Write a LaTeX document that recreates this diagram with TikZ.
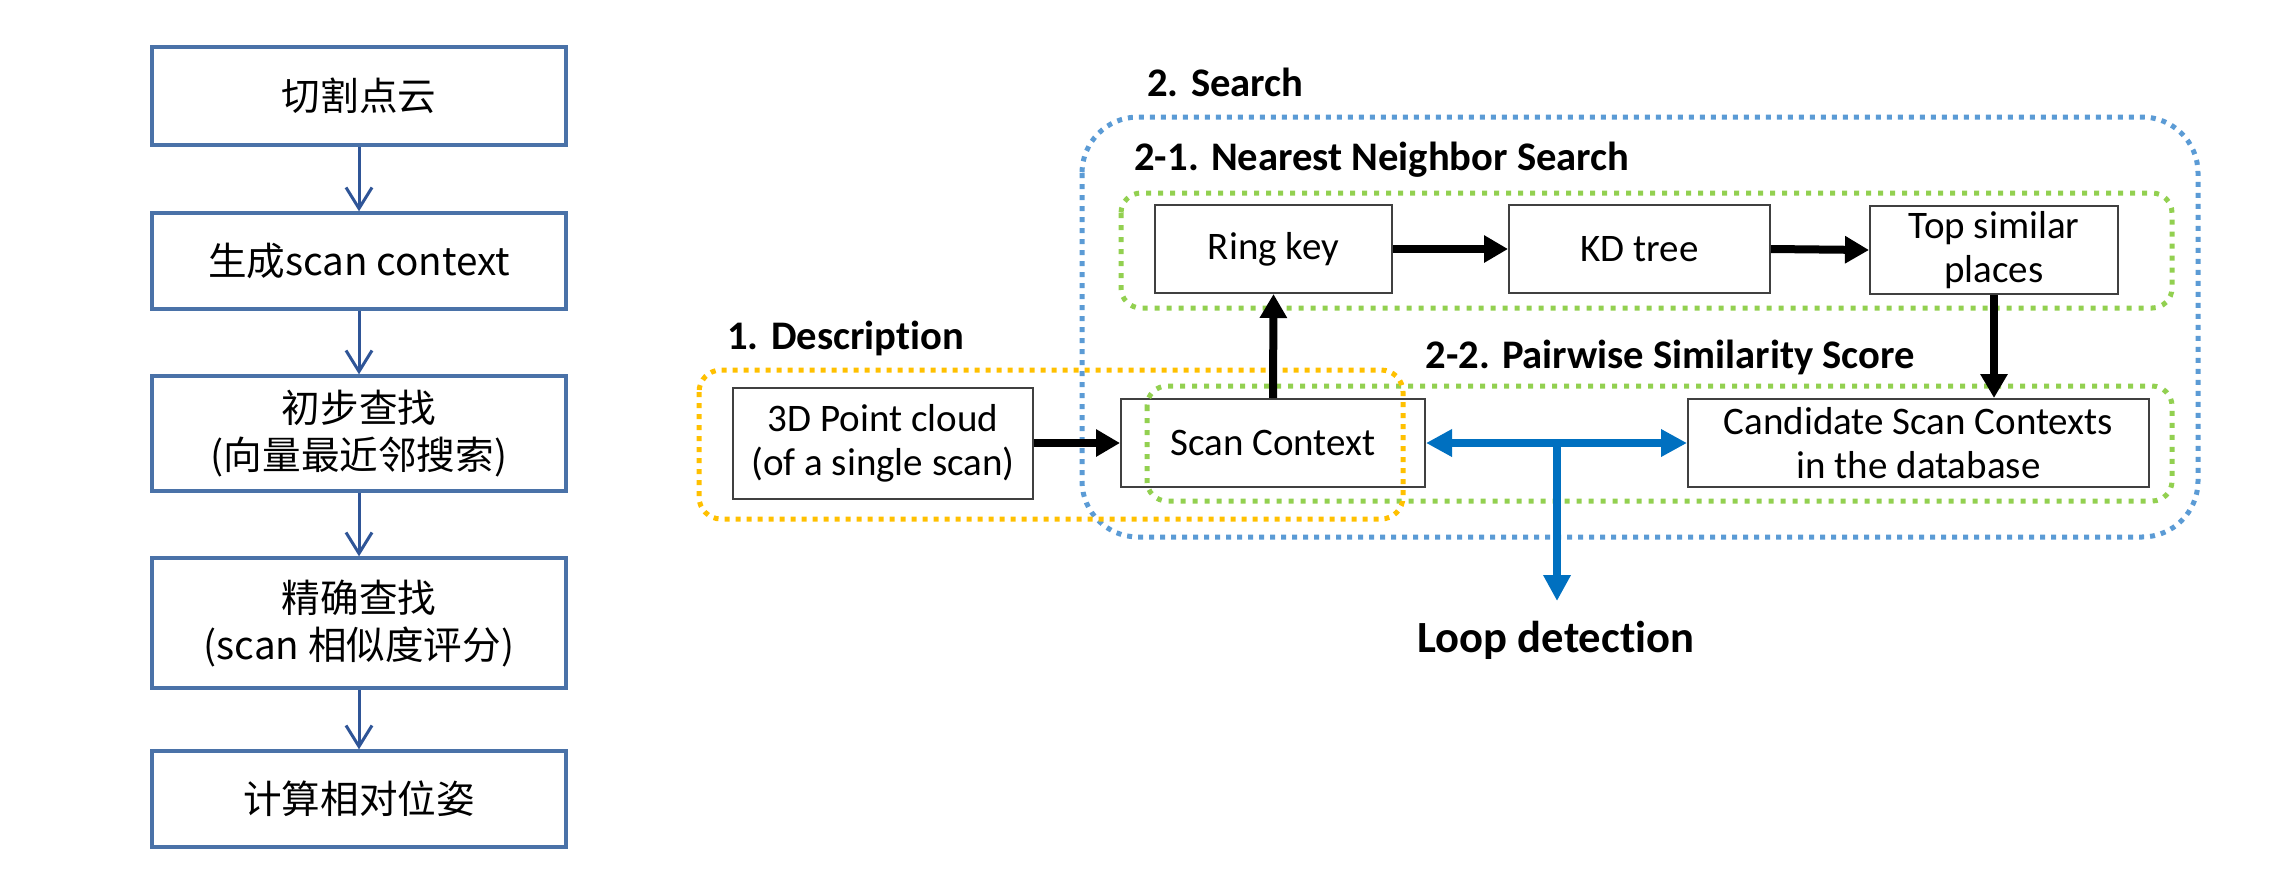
\documentclass[tikz,border=0pt]{standalone}
\usepackage{fontspec}
\setmainfont{Carlito}[Ligatures=NoCommon]
\newfontfamily\cjk{Noto Sans CJK SC}
\usetikzlibrary{arrows.meta}
\definecolor{flowblue}{HTML}{4A72A8}
\definecolor{arrowblue}{HTML}{2F5597}
\definecolor{dotblue}{HTML}{5B9BD5}
\definecolor{dotgreen}{HTML}{92D050}
\definecolor{dotyellow}{HTML}{FFC000}
\definecolor{loopblue}{HTML}{0070C0}
\definecolor{boxgray}{HTML}{404040}
\tikzset{
  fbox/.style={draw=flowblue, line width=1.7pt, minimum width=207pt, align=center, inner sep=0pt,
    font=\cjk\fontsize{19.3}{23.5}\selectfont},
  farrow/.style={draw=arrowblue, line width=1.5pt, -{Straight Barb[length=10.5pt,width=13pt]}},
  rbox/.style={draw=boxgray, line width=1pt, align=center, inner sep=0pt,
    font=\fontsize{19.5}{22}\selectfont, minimum height=44pt},
  barrow/.style={draw=black, line width=4pt, -{Triangle[length=12pt,width=13pt]}},
  larrow/.style={draw=loopblue, line width=4pt},
  dotframe/.style={line width=2.5pt, dash pattern=on 2.5pt off 3pt},
  lbl/.style={font=\bfseries\fontsize{20.3}{24}\selectfont, anchor=west, inner sep=0pt},
}
\begin{document}
\begin{tikzpicture}[x=0.5pt, y=-0.5pt]
\useasboundingbox (0,0) rectangle (2280,890);

% left flowchart
\node[fbox, minimum height=49pt] (f1) at (359,96) {切割点云};
\node[fbox, minimum height=48pt] (f2) at (359,261) {生成scan context};
\node[fbox, minimum height=57.5pt] (f3) at (359,433.5) {初步查找\\(向量最近邻搜索)};
\node[fbox, minimum height=65pt] (f4) at (359,623) {精确查找\\(scan 相似度评分)};
\node[fbox, minimum height=48pt] (f5) at (359,799) {计算相对位姿};
\draw[farrow] (f1) -- (f2);
\draw[farrow] (f2) -- (f3);
\draw[farrow] (f3) -- (f4);
\draw[farrow] (f4) -- (f5);

% right diagram boxes
\node[rbox, minimum width=118.5pt] (ring) at (1273.5,249) {Ring key};
\node[rbox, minimum width=130.5pt] (kd) at (1639.5,249) {KD tree};
\node[rbox, minimum width=124pt] (top) at (1994,250) {Top similar\\places};
\node[rbox, minimum width=150pt, minimum height=55.5pt] (pc) at (883,443) {3D Point cloud\\(of a single scan)};
\node[rbox, minimum width=152pt] (sc) at (1273,443) {Scan Context};
\node[rbox, minimum width=230.5pt] (cand) at (1918.5,443) {Candidate Scan Contexts\\in the database};

% dotted frames
\draw[dotframe, draw=dotblue, rounded corners=28pt] (1082,117) rectangle (2198,537);
\draw[dotframe, draw=dotgreen, rounded corners=10pt, dash pattern=on 2.5pt off 3.5pt] (1121,193) rectangle (2172,308);
\draw[dotframe, draw=dotgreen, rounded corners=10pt, dash pattern=on 2.5pt off 3.5pt] (1147,386) rectangle (2172,501);
\draw[dotframe, draw=dotyellow, rounded corners=11pt] (699,370) rectangle (1403,519);

% labels
\node[lbl] (l2) at (1147,82) {2. Search};
\node[lbl] (l21) at (1134,160) {2-1. Nearest Neighbor Search};
\node[lbl] (l1) at (727,338) {1. Description};
\node[lbl] (l22) at (1425,357) {2-2. Pairwise Similarity Score};
\node[font=\bfseries\fontsize{22.3}{26}\selectfont, inner sep=0pt] (loop) at (1556,640) {Loop detection};

% arrows
\draw[barrow] (pc.east) -- (sc.west);
\draw[barrow] (sc.north) -- (ring.south);
\draw[barrow] (ring.east) -- (kd.west);
\draw[barrow] (kd.east) -- (top.west);
\draw[barrow] (top.south) -- (top.south |- cand.north);
\coordinate (br) at (1557,443);
\coordinate (loopend) at (1557,601);
\draw[larrow, {Triangle[length=13pt,width=13pt]}-{Triangle[length=13pt,width=13pt]}] (sc.east) -- (cand.west);
\draw[larrow, -{Triangle[length=13pt,width=13pt]}] (br) -- (loopend);
\end{tikzpicture}
\end{document}
